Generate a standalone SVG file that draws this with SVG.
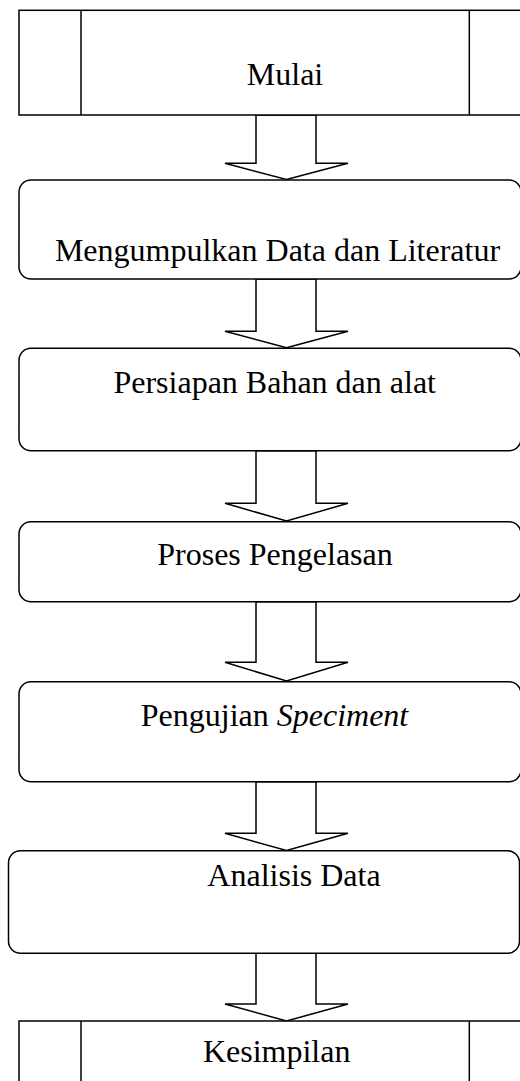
<svg xmlns="http://www.w3.org/2000/svg" width="520" height="1081" viewBox="0 0 520 1081">
<style>
.b{fill:#fff;stroke:#000;stroke-width:1.5}
.l{stroke:#000;stroke-width:1.5;fill:none}
.t{font-family:"Liberation Serif","Times New Roman",serif;font-size:32px;fill:#000;text-anchor:middle}
.a{fill:#fff;stroke:#000;stroke-width:1.5;stroke-linejoin:miter}
</style>
<rect width="520" height="1081" fill="#fff"/>
<g id="connectors">
<polygon class="a" points="256,115 256,163.3 225,163.3 286.5,179.5 348,163.3 316,163.3 316,115"/>
<polygon class="a" points="256,279 256,331.3 225,331.3 286.5,347.7 348,331.3 316,331.3 316,279"/>
<polygon class="a" points="256,450.7 256,503.3 225,503.3 286.5,521 348,503.3 316,503.3 316,450.7"/>
<polygon class="a" points="256,601.7 256,662.3 225,662.3 286.5,681 348,662.3 316,662.3 316,601.7"/>
<polygon class="a" points="256,781.7 256,833.3 225,833.3 286.5,850.5 348,833.3 316,833.3 316,781.7"/>
<polygon class="a" points="256,953.3 256,1004 225,1004 286.5,1021 348,1004 316,1004 316,953.3"/>
</g>
<g id="mulai">
<rect class="b" x="19" y="10.3" width="503" height="104.7"/>
<line class="l" x1="81" y1="10.3" x2="81" y2="115"/>
<line class="l" x1="469.3" y1="10.3" x2="469.3" y2="115"/>
<text class="t" x="285" y="85">Mulai</text>
</g>
<g id="mengumpulkan">
<rect class="b" x="19" y="180" width="502" height="99" rx="12" ry="12"/>
<text class="t" x="277.5" y="261">Mengumpulkan Data dan Literatur</text>
</g>
<g id="persiapan">
<rect class="b" x="19" y="348.3" width="502" height="102.4" rx="12" ry="12"/>
<text class="t" x="274.7" y="393">Persiapan Bahan dan alat</text>
</g>
<g id="proses">
<rect class="b" x="19" y="521.7" width="502" height="80" rx="12" ry="12"/>
<text class="t" x="275" y="565">Proses Pengelasan</text>
</g>
<g id="pengujian">
<rect class="b" x="19" y="681.7" width="502" height="100" rx="12" ry="12"/>
<text class="t" x="274.5" y="726">Pengujian <tspan font-style="italic">Speciment</tspan></text>
</g>
<g id="analisis">
<rect class="b" x="8.5" y="850.7" width="511" height="102.6" rx="12" ry="12"/>
<text class="t" x="294" y="886">Analisis Data</text>
</g>
<g id="kesimpilan">
<rect class="b" x="19" y="1021" width="503" height="70"/>
<line class="l" x1="81" y1="1021" x2="81" y2="1091"/>
<line class="l" x1="469.3" y1="1021" x2="469.3" y2="1091"/>
<text class="t" x="276.7" y="1062">Kesimpilan</text>
</g>
</svg>
